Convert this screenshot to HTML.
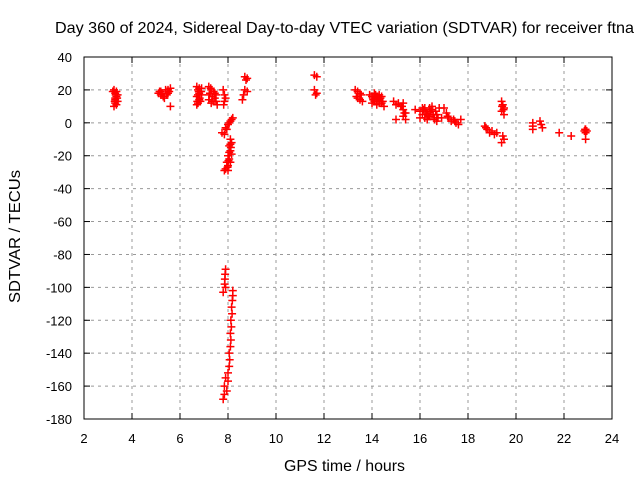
<!DOCTYPE html>
<html><head><meta charset="utf-8"><style>
body{margin:0;background:#fff}
svg text{font-family:"Liberation Sans",sans-serif;fill:#000}
</style></head><body>
<svg id="chart" width="640" height="480" xmlns="http://www.w3.org/2000/svg">
<rect width="640" height="480" fill="#fff"/>
<g id="grid"></g>
<g id="ticks"></g>
<rect x="84" y="57" width="528" height="362" fill="none" stroke="#000" stroke-width="1"/>
<g id="marks"></g>
<text x="55" y="33" font-size="16" textLength="579" lengthAdjust="spacingAndGlyphs">Day 360 of 2024, Sidereal Day-to-day VTEC variation (SDTVAR) for receiver ftna</text>
<text x="284" y="471" font-size="16" textLength="121" lengthAdjust="spacingAndGlyphs">GPS time / hours</text>
<text transform="translate(20,303) rotate(-90)" font-size="16" textLength="133" lengthAdjust="spacingAndGlyphs">SDTVAR / TECUs</text>
</svg>
<script>
const xTicks=[2,4,6,8,10,12,14,16,18,20,22,24];
const yTicks=[40,20,0,-20,-40,-60,-80,-100,-120,-140,-160,-180];
const hours=[3.25,3.3,3.35,3.3,3.4,3.3,3.25,3.35,3.3,3.4,3.2,3.35,3.28,3.38,3.32,
5.1,5.2,5.3,5.2,5.35,5.4,5.5,5.6,5.55,5.45,5.6,5.25,5.15,5.5,
6.7,6.75,6.8,6.7,6.8,6.75,6.9,6.9,6.85,6.7,6.78,6.82,6.72,6.88,6.8,6.75,
7.2,7.3,7.25,7.35,7.2,7.3,7.4,7.45,7.5,7.55,7.5,7.28,7.38,7.22,7.45,
7.8,7.85,7.9,7.85,7.82,
8.7,8.8,8.75,8.7,8.8,8.65,8.6,
7.85,7.9,8.0,8.1,8.2,8.05,7.75,7.95,8.15,
8.1,8.05,8.1,8.0,8.05,7.95,8.0,7.9,7.85,8.0,8.1,8.15,8.1,8.15,8.05,8.12,8.02,7.98,
7.9,7.88,7.87,7.86,7.9,7.8,
8.2,8.2,8.18,8.15,8.17,8.12,8.14,8.1,8.12,8.1,8.05,8.07,8.05,8.0,7.9,8.0,7.85,7.95,7.85,7.8,
11.6,11.7,11.6,11.7,11.65,
13.3,13.4,13.5,13.4,13.5,13.6,13.35,13.55,
13.9,14.0,14.1,14.2,14.3,14.4,14.0,14.3,14.4,14.2,14.5,14.1,14.35,14.05,14.15,14.25,14.45,14.2,14.3,14.1,
14.9,15.0,15.1,15.2,15.3,15.4,15.3,15.0,15.4,15.3,15.25,15.35,
15.8,16.0,16.1,16.2,16.3,16.4,16.5,16.6,16.7,16.8,16.5,16.3,16.7,16.9,16.0,16.2,16.15,16.25,16.35,16.45,16.55,16.6,16.1,16.4,16.65,16.75,
17.0,17.1,17.2,17.4,17.5,17.7,17.6,17.3,17.15,17.45,
18.7,18.8,18.9,19.0,19.1,19.2,18.75,
19.4,19.45,19.5,19.4,19.5,19.45,19.5,19.4,19.42,19.48,
20.7,20.7,20.7,21.0,21.05,21.1,
21.8,22.3,22.9,22.9,22.85,22.9,22.95,22.88];
const sdtvar=[20,18,16,14,13,12,10,11,15,17,19,19,13,15,17,
18,17,16,19,15,20,18,21,19,17,10,18,19,20,
22,20,18,16,14,12,21,17,13,11,19,15,13,19,21,17,
22,20,18,16,14,12,19,15,13,11,17,21,13,17,18,
20,17,15,13,11,
28,27,26,20,19,17,14,
-7,-3,-1,1,3,0,-6,-4,2,
-10,-14,-17,-20,-22,-24,-26,-28,-29,-29,-24,-19,-13,-12,-18,-15,-23,-27,
-89,-92,-95,-98,-100,-103,
-102,-105,-108,-112,-116,-120,-124,-128,-132,-136,-140,-144,-148,-152,-155,-157,-160,-163,-165,-168,
29,28,20,18,17,
20,19,18,15,14,13,16,17,
17,16,15,14,13,12,12,17,16,11,10,18,15,14,17,15,13,16,12,13,
13,11,12,10,8,6,4,2,2,12,10,6,
8,7,5,9,6,4,8,3,5,9,10,2,1,3,3,3,8,6,4,7,5,2,9,9,7,3,
9,6,3,2,0,2,-1,1,4,1,
-2,-4,-6,-5,-7,-6,-3,
13,11,9,7,5,-8,-10,-12,10,8,
0,-2,-4,1,-1,-3,
-6,-8,-4,-6,-5,-10,-5,-4];
const X=h=>84+(h-2)*24, Y=v=>57+(40-v)*362/220;
const NS="http://www.w3.org/2000/svg";
function mk(t,a,p){const e=document.createElementNS(NS,t);for(const k in a)e.setAttribute(k,a[k]);p.appendChild(e);return e;}
const grid=document.getElementById('grid'),ticks=document.getElementById('ticks'),marks=document.getElementById('marks');
xTicks.forEach(t=>{const x=X(t);
 if(t>2&&t<24){const g=mk('line',{x1:x,x2:x,y1:57,y2:419,stroke:'#999','stroke-dasharray':'3,4'},grid);
 
 }
 mk('line',{x1:x,x2:x,y1:419,y2:413,stroke:'#000'},ticks);mk('line',{x1:x,x2:x,y1:57,y2:63,stroke:'#000'},ticks);
 const l=mk('text',{x:x,y:443,'font-size':13,'text-anchor':'middle'},ticks);l.textContent=t;
 
 });
yTicks.forEach(t=>{const y=Y(t);
 if(t<40&&t>-180){const g=mk('line',{x1:84,x2:612,y1:y,y2:y,stroke:'#999','stroke-dasharray':'3,4'},grid);
 
 }
 mk('line',{x1:84,x2:90,y1:y,y2:y,stroke:'#000'},ticks);mk('line',{x1:612,x2:606,y1:y,y2:y,stroke:'#000'},ticks);
 const l=mk('text',{x:72,y:y+5,'font-size':13,'text-anchor':'end'},ticks);l.textContent=t;
 
 });
hours.forEach((h,i)=>{const x=X(h),y=Y(sdtvar[i]);
 const p=mk('path',{d:`M${x-4},${y}h8M${x},${y-4}v8`,stroke:'#f00','stroke-width':1.5,fill:'none'},marks);
 
 });
</script>
</body></html>
